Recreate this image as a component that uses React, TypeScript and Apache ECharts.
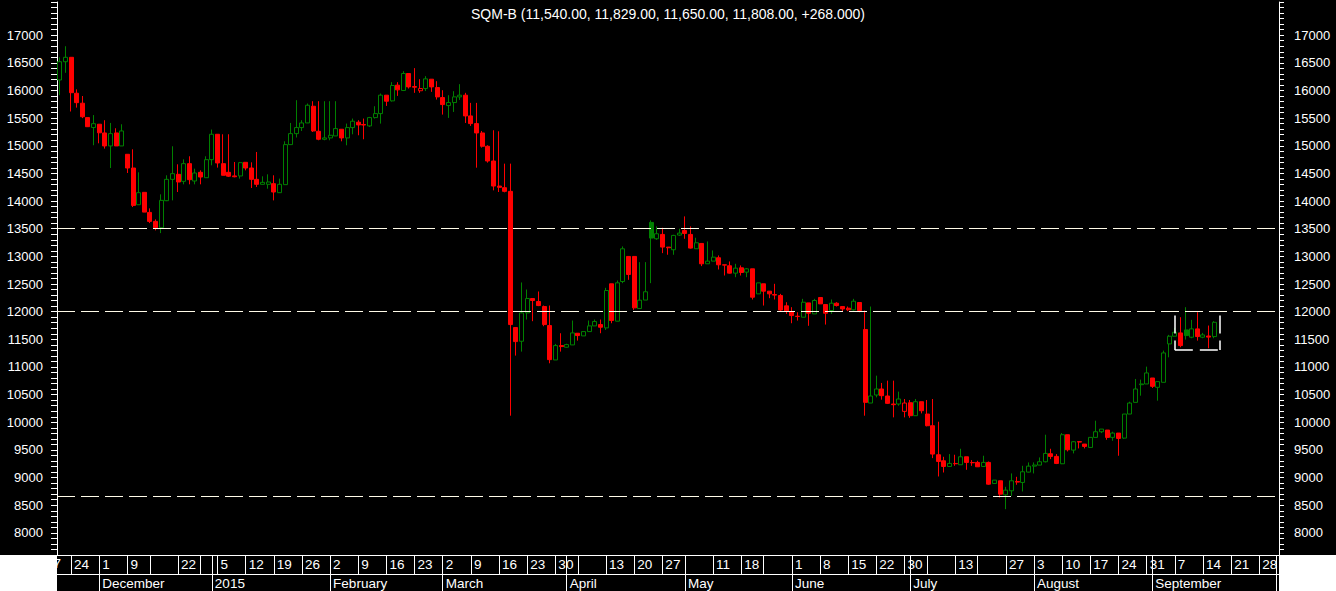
import React, { useEffect, useRef } from 'react';
import * as echarts from 'echarts';

// ---------- data ----------
const titleText = 'SQM-B (11,540.00, 11,829.00, 11,650.00, 11,808.00, +268.000)';
const firstDay = [2014, 10, 20];
const lastDay = [2015, 9, 1];
const holidays = ['2014-12-08', '2014-12-25', '2014-12-31', '2015-01-01', '2015-04-03', '2015-05-01', '2015-05-21', '2015-06-29', '2015-07-16'];
const unlabeledWeeks = ['2014-12-15', '2014-12-29', '2015-04-06', '2015-05-04', '2015-05-25', '2015-07-06', '2015-07-20'];
const monthNames = ['January', 'February', 'March', 'April', 'May', 'June', 'July', 'August', 'September', 'October', 'November', 'December'];
const yTickLabels = [8000, 8500, 9000, 9500, 10000, 10500, 11000, 11500, 12000, 12500, 13000, 13500, 14000, 14500, 15000, 15500, 16000, 16500, 17000];
const levelLines = [13500, 12000, 8660];
const boxDates = ['2015-09-07', '2015-09-17'];
const boxRange = [11308, 11930];
const hiddenLeftDay = '17';

const opens = [
  16190, 16520, 16600, 15950, 15770, 15510, 15330, 15390, 15232, 14997,
  15232, 14997, 14846, 14598, 13934, 14158, 13795, 13633, 13518, 14007,
  14393, 14484, 14357, 14677, 14363, 14520, 14423, 14749, 15208, 14677,
  14520, 14455, 14454, 14701, 14598, 14393, 14303, 14303, 14315, 14152,
  14297, 15021, 15220, 15329, 15413, 15715, 15262, 15118, 15142, 15178,
  15299, 15142, 15329, 15426, 15385, 15359, 15510, 15582, 15915, 15812,
  16096, 16000, 16307, 16071, 15995, 16035, 16204, 16053, 15872, 15727,
  15782, 15884, 15915, 15540, 15401, 15232, 14991, 14725, 14272, 14242,
  14176, 11713, 11465, 11978, 12238, 12184, 12093, 11749, 11127, 11387,
  11357, 11399, 11610, 11562, 11640, 11743, 11767, 11707, 12504, 11828,
  12546, 12999, 12999, 12057, 12210, 13614, 13319, 13397, 13168, 13120,
  13385, 13469, 13397, 13138, 13234, 12866, 12914, 12975, 12848, 12830,
  12697, 12793, 12715, 12775, 12322, 12504, 12371, 12310, 12292, 12105,
  12003, 11918, 11900, 12159, 11960, 12256, 12129, 12021, 12153, 12093,
  12063, 12033, 12166, 11677, 10348, 10493, 10602, 10475, 10330, 10330,
  10197, 10354, 10119, 10372, 10149, 9938, 9413, 9304, 9201, 9255,
  9232, 9376, 9272, 9274, 9201, 9274, 8893, 8942, 8688, 8761,
  8930, 8912, 9099, 9207, 9226, 9286, 9431, 9383, 9250, 9775,
  9497, 9650, 9606, 9545, 9727, 9829, 9859, 9727, 9805, 9714,
  10149, 10360, 10680, 10693, 10801, 10632, 10723, 11417, 11556, 11616,
  11670, 11538, 11689, 11538, 11560, 11550,
];
const closes = [
  16520, 16600, 15960, 15780, 15525, 15345, 15400, 15235, 14997, 15220,
  14997, 15268, 14598, 13922, 14152, 13801, 13633, 13518, 14013, 14393,
  14496, 14345, 14677, 14387, 14508, 14435, 14749, 15208, 14689, 14466,
  14450, 14440, 14695, 14598, 14393, 14303, 14339, 14345, 14164, 14303,
  15021, 15220, 15329, 15413, 15733, 15268, 15118, 15142, 15190, 15311,
  15142, 15329, 15444, 15377, 15375, 15510, 15582, 15915, 15806, 16090,
  16011, 16307, 16065, 16059, 16035, 16210, 16065, 15884, 15745, 15782,
  15884, 15915, 15540, 15401, 15232, 14991, 14725, 14272, 14248, 14176,
  11767, 11459, 11978, 12238, 12202, 12111, 11767, 11133, 11387, 11369,
  11405, 11616, 11568, 11640, 11743, 11822, 11719, 12383, 11840, 12522,
  13137, 12673, 12069, 12208, 12360, 13331, 13409, 13168, 13156, 13379,
  13421, 13415, 13150, 13246, 12866, 12914, 12986, 12848, 12842, 12697,
  12787, 12709, 12775, 12262, 12521, 12371, 12322, 12300, 12030, 12015,
  11930, 11912, 12171, 11972, 12202, 12141, 11972, 12153, 12111, 12050,
  12033, 12189, 12021, 10360, 10475, 10602, 10481, 10342, 10318, 10421,
  10348, 10119, 10372, 10209, 9938, 9425, 9292, 9201, 9256, 9250,
  9376, 9274, 9268, 9195, 9274, 8881, 8954, 8700, 8773, 8942,
  8918, 9105, 9207, 9226, 9286, 9437, 9383, 9256, 9775, 9503,
  9648, 9642, 9564, 9727, 9829, 9877, 9727, 9805, 9708, 10149,
  10348, 10602, 10693, 10892, 10650, 10735, 11254, 11556, 11628, 11387,
  11568, 11689, 11550, 11580, 11540, 11808,
];
const highs = [
  16600, 16800, 16600, 16020, 15900, 15510, 15555, 15390, 15462, 15413,
  15317, 15389, 14846, 14936, 14520, 14158, 13868, 13669, 14122, 14466,
  14991, 14665, 14755, 14810, 14586, 14556, 14810, 15293, 15208, 15208,
  15208, 14707, 14707, 14701, 14701, 14888, 14448, 14484, 14466, 14406,
  15081, 15413, 15824, 15462, 15764, 15806, 15806, 15806, 15806, 15806,
  15299, 15401, 15492, 15462, 15492, 15522, 15715, 15945, 15915, 16150,
  16150, 16349, 16307, 16404, 16204, 16259, 16204, 16168, 16005, 15914,
  15987, 16114, 15957, 15776, 15776, 15268, 15009, 15281, 15262, 14677,
  14677, 11713, 12528, 12401, 12238, 12365, 12111, 12111, 11417, 11610,
  11420, 11840, 11610, 11640, 11840, 11858, 11858, 12431, 12504, 12564,
  13180, 12999, 12999, 12896, 12896, 13650, 13542, 13518, 13168, 13390,
  13500, 13723, 13542, 13337, 13234, 13270, 13107, 13017, 12848, 12908,
  12866, 12836, 12790, 12775, 12521, 12504, 12371, 12504, 12322, 12171,
  12081, 11990, 12232, 12159, 12232, 12256, 12129, 12220, 12171, 12093,
  12093, 12232, 12166, 12021, 12093, 10843, 10711, 10753, 10753, 10554,
  10421, 10403, 10421, 10372, 10403, 10421, 10010, 9376, 9425, 9413,
  9521, 9376, 9316, 9304, 9395, 9290, 8954, 8942, 8833, 9075,
  9014, 9213, 9274, 9274, 9364, 9775, 9521, 9425, 9805, 9775,
  9660, 9660, 9606, 9727, 10028, 9877, 9859, 9829, 9805, 10149,
  10372, 10783, 10771, 11006, 10801, 10735, 11296, 11580, 11707, 11900,
  12081, 11852, 11990, 11616, 11749, 11829,
];
const lows = [
  15915, 16320, 15620, 15690, 15500, 15340, 15010, 15045, 14949, 14598,
  14997, 14997, 14508, 13892, 13934, 13801, 13602, 13470, 13421, 13999,
  14013, 14164, 14303, 14303, 14303, 14303, 14423, 14647, 14605, 14466,
  14435, 14430, 14406, 14556, 14236, 14254, 14303, 14224, 14013, 14152,
  14297, 15021, 15150, 15268, 15413, 15250, 15100, 15100, 15100, 15178,
  15081, 15009, 15208, 15190, 15118, 15340, 15492, 15401, 15721, 15800,
  15902, 15990, 16035, 15957, 15957, 15990, 15975, 15836, 15564, 15504,
  15612, 15830, 15413, 15359, 14604, 14967, 14695, 14194, 14164, 14158,
  10119, 11206, 11278, 11858, 11828, 12100, 11737, 11067, 11127, 11278,
  11350, 11399, 11477, 11562, 11640, 11743, 11610, 11670, 11791, 11828,
  12516, 12576, 12033, 12057, 12210, 12516, 13300, 13059, 13030, 13029,
  13370, 13318, 13140, 13138, 12824, 12866, 12914, 12763, 12654, 12690,
  12624, 12654, 12624, 12220, 12322, 12111, 12244, 12220, 12000, 11960,
  11791, 11839, 11900, 11745, 11960, 12141, 11767, 11960, 12093, 12009,
  12009, 12021, 11990, 10119, 10348, 10451, 10409, 10330, 10089, 10300,
  10089, 10080, 10119, 10161, 9926, 9352, 9020, 9092, 9201, 9213,
  9232, 9141, 9213, 9195, 9201, 8870, 8893, 8640, 8429, 8670,
  8870, 8749, 9093, 9075, 9226, 9274, 9334, 9244, 9244, 9473,
  9437, 9527, 9527, 9545, 9727, 9805, 9684, 9666, 9395, 9700,
  10149, 10360, 10481, 10693, 10620, 10391, 10723, 11175, 11556, 11357,
  11496, 11520, 11477, 11520, 11339, 11520,
];

// ---------- helpers ----------
const pad = (n: number) => (n < 10 ? '0' + n : '' + n);
const iso = (d: Date) => `${d.getUTCFullYear()}-${pad(d.getUTCMonth() + 1)}-${pad(d.getUTCDate())}`;

function buildCalendar(): string[] {
  const out: string[] = [];
  const d = new Date(Date.UTC(firstDay[0], firstDay[1], firstDay[2]));
  const end = Date.UTC(lastDay[0], lastDay[1], lastDay[2]);
  while (d.getTime() <= end) {
    const wd = d.getUTCDay();
    const s = iso(d);
    if (wd !== 0 && wd !== 6 && holidays.indexOf(s) < 0) out.push(s);
    d.setUTCDate(d.getUTCDate() + 1);
  }
  return out;
}

const GREEN = '#008000';
const RED = '#ff0000';
const FONT = '"Liberation Sans", Arial, sans-serif';

export default function App() {
  const ref = useRef<HTMLDivElement>(null);
  useEffect(() => {
    if (!ref.current) return;
    const chart = echarts.init(ref.current, undefined, { renderer: 'svg' });
    const dates = buildCalendar();
    const parse = (s: string) => new Date(s + 'T00:00:00Z');
    const isWeekStart = dates.map((s, i) => {
      if (i === 0) return false;
      const a = parse(dates[i - 1]);
      const b = parse(s);
      return b.getUTCDay() < a.getUTCDay() || b.getTime() - a.getTime() >= 7 * 86400000;
    });
    const isMonthStart = dates.map((s, i) => i > 0 && s.slice(5, 7) !== dates[i - 1].slice(5, 7));

    const candles = opens.map((o, i) => {
      const c = closes[i];
      const up = i === 0 || c >= closes[i - 1];
      const stroke = up ? GREEN : RED;
      const fill = c < o ? stroke : '#000000';
      return {
        value: [o, c, lows[i], highs[i]],
        itemStyle: {
          color: fill, color0: fill, borderColor: stroke, borderColor0: stroke,
          borderColorDoji: stroke,
        },
      };
    });

    const b0 = dates.indexOf(boxDates[0]);
    const b1 = dates.indexOf(boxDates[1]);
    const boxStyle = { color: '#ffffff', width: 1.5, type: [18, 7] as any };

    const yAxisBase = {
      type: 'value' as const,
      min: 7600,
      max: 17600,
      interval: 100,
      splitLine: { show: false },
      axisLine: { show: true, lineStyle: { color: '#ffffff', width: 1 } },
      axisTick: { show: true, length: 6, lineStyle: { color: '#ffffff' } },
      axisLabel: {
        color: '#ffffff',
        fontSize: 13,
        fontFamily: FONT,
        formatter: (v: number) => (yTickLabels.indexOf(Math.round(v)) >= 0 ? String(Math.round(v)) : ''),
      },
    };

    chart.setOption({
      animation: false,
      backgroundColor: '#000000',
      title: {
        text: titleText,
        left: 'center',
        top: 7,
        padding: 0,
        textStyle: { color: '#ffffff', fontSize: 14, fontWeight: 'normal', fontFamily: FONT },
      },
      grid: { left: 57, right: 57, top: 2, bottom: 36, containLabel: false },
      xAxis: [
        {
          type: 'category',
          data: dates,
          boundaryGap: true,
          position: 'bottom',
          axisLine: { show: true, lineStyle: { color: '#ffffff', width: 1 } },
          axisTick: {
            show: true,
            alignWithLabel: true,
            length: 19,
            interval: (i: number) => isWeekStart[i] || isMonthStart[i],
            lineStyle: { color: '#ffffff', width: 1 },
          },
          axisLabel: {
            interval: (i: number, v: string) => isWeekStart[i] && unlabeledWeeks.indexOf(v) < 0,
            formatter: (v: string) => String(parseInt(v.slice(8, 10), 10)),
            color: '#ffffff',
            fontSize: 13.5,
            fontFamily: FONT,
            align: 'left',
            verticalAlign: 'middle',
            padding: [0, 0, 0, 3],
            margin: 9,
          },
          splitLine: { show: false },
        },
        {
          type: 'category',
          data: dates,
          boundaryGap: true,
          position: 'bottom',
          offset: 19,
          axisLine: { show: true, lineStyle: { color: '#ffffff', width: 1 } },
          axisTick: {
            show: true,
            alignWithLabel: true,
            length: 17,
            interval: (i: number) => isMonthStart[i],
            lineStyle: { color: '#ffffff', width: 1 },
          },
          axisLabel: {
            interval: (i: number) => isMonthStart[i],
            formatter: (v: string) => {
              const m = parseInt(v.slice(5, 7), 10) - 1;
              return m === 0 ? v.slice(0, 4) : monthNames[m];
            },
            color: '#ffffff',
            fontSize: 13.5,
            fontFamily: FONT,
            align: 'left',
            verticalAlign: 'middle',
            padding: [0, 0, 0, 3],
            margin: 9,
          },
          splitLine: { show: false },
        },
      ],
      yAxis: [
        { ...yAxisBase, position: 'left', axisLabel: { ...yAxisBase.axisLabel, margin: 14 } },
        {
          ...yAxisBase,
          position: 'right',
          axisTick: { ...yAxisBase.axisTick, length: 5 },
          axisLabel: { ...yAxisBase.axisLabel, margin: 15, align: 'left' },
        },
      ],
      series: [
        {
          type: 'candlestick',
          xAxisIndex: 0,
          yAxisIndex: 0,
          barWidth: 4.5,
          data: candles,
          itemStyle: { borderWidth: 1 },
          markLine: {
            silent: true,
            symbol: ['none', 'none'],
            label: { show: false },
            lineStyle: { color: '#fffbe8', width: 1, type: [18, 6] as any },
            data: [
              ...levelLines.map((v) => ({ yAxis: v })),
              [{ coord: [b0, boxRange[1]], lineStyle: boxStyle }, { coord: [b0, boxRange[0]] }],
              [{ coord: [b0, boxRange[0]], lineStyle: boxStyle }, { coord: [b1, boxRange[0]] }],
              [{ coord: [b1, boxRange[1]], lineStyle: boxStyle }, { coord: [b1, boxRange[0]] }],
            ],
          },
        },
      ],
      graphic: [
        {
          type: 'text',
          z: 100,
          left: 46,
          top: 556,
          style: { text: hiddenLeftDay, fill: '#ffffff', font: `13.5px ${FONT}` },
        },
        { type: 'rect', z: 101, shape: { x: 0, y: 555, width: 57, height: 36 }, style: { fill: '#ffffff' } },
        { type: 'rect', z: 101, shape: { x: 1279, y: 555, width: 57, height: 36 }, style: { fill: '#ffffff' } },
      ],
    });
    return () => chart.dispose();
  }, []);
  return (
    <div
      ref={ref}
      style={{ position: 'fixed', left: 0, top: 0, width: 1336, height: 591, background: '#000' }}
    />
  );
}
